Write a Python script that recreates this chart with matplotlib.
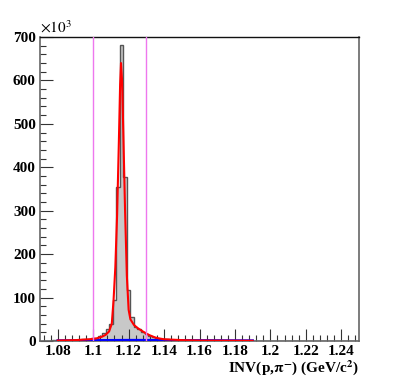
"""Lambda -> p pi- invariant mass peak with fit and mass window."""

import numpy as np
import matplotlib.pyplot as plt
from matplotlib.ticker import MultipleLocator

# histogram: bin edges (GeV/c^2) and counts (x10^3)
BIN_LO = 1.071
BIN_W = 0.002
COUNTS = [
    0.5, 0.8, 1.0, 1.2, 1.5, 1.8, 2.0, 2.3, 2.6, 3.0,      # 1.071 - 1.091
    3.4, 3.9, 4.5, 5.2, 6.5, 8.0, 11, 18, 27, 39,          # 1.091 - 1.111
    94, 355, 681, 378, 117, 55, 33, 27, 21, 16,            # 1.111 - 1.131
    12, 9, 7, 5, 4, 3.5, 3.0, 2.8, 2.5, 2.3,               # 1.131 - 1.151
    2.2, 2.1, 2.0, 1.9, 1.8, 1.7, 1.6, 1.5, 1.4, 1.3,      # 1.151 - 1.171
    1.2, 1.1, 1.0, 1.0, 0.9, 0.9, 0.8, 0.8, 0.7, 0.7,      # 1.171 - 1.191
    0.6, 0.6, 0.5, 0.5, 0.5, 0.4, 0.4, 0.4, 0.3, 0.3,      # 1.191 - 1.211
    0.3, 0.3, 0.2, 0.2, 0.2, 0.2, 0.2, 0.1, 0.1, 0.1,      # 1.211 - 1.231
    0.1, 0.1, 0.1, 0.1, 0.1, 0.1, 0.1, 0.1, 0.1,           # 1.231 - 1.249
]

FIT_X = [1.080, 1.090, 1.098, 1.102, 1.105, 1.107, 1.109, 1.1105, 1.1115,
         1.1125, 1.1135, 1.1145, 1.1152, 1.1157, 1.1163, 1.117, 1.118,
         1.119, 1.120, 1.121, 1.123, 1.125, 1.128, 1.130, 1.132, 1.135,
         1.137, 1.140, 1.150, 1.160, 1.190]
FIT_Y = [1, 2, 4, 6, 10, 14, 22, 40, 94,
         170, 290, 460, 590, 640, 600, 480, 300,
         150, 72, 50, 37, 30, 22, 17, 13, 8,
         6, 4, 2, 1, 0.5]

# background fit (blue)
BKG_X = [1.08, 1.10, 1.12, 1.14, 1.16, 1.19]
BKG_Y = [1.0, 1.5, 2.0, 1.8, 1.4, 1.0]

# mass window
WINDOW = [1.10, 1.13]

plt.rcParams["font.family"] = ["Liberation Serif", "DejaVu Serif"]
plt.rcParams["mathtext.fontset"] = "stix"

fig = plt.figure(figsize=(3.99, 3.79), dpi=100)
ax = fig.add_axes([0.1003, 0.1003, 0.7994, 0.8021])

edges = BIN_LO + BIN_W * np.arange(len(COUNTS) + 1)
ax.stairs(COUNTS, edges, fill=True, color="#c8c8c8", zorder=1)
ax.stairs(COUNTS, edges, color="#555555", linewidth=1.0, zorder=2)

ax.plot(BKG_X, BKG_Y, color="#0000ff", linewidth=1.8, zorder=3.5)
ax.plot(FIT_X, FIT_Y, color="#ff0000", linewidth=1.5, zorder=4)

for xw in WINDOW:
    ax.axvline(xw, color="#ee77ee", linewidth=1.0, zorder=5)

ax.set_xlim(1.07, 1.25)
ax.set_ylim(0, 700)

ax.xaxis.set_major_locator(MultipleLocator(0.02))
ax.xaxis.set_minor_locator(MultipleLocator(0.004))
ax.yaxis.set_major_locator(MultipleLocator(100))
ax.yaxis.set_minor_locator(MultipleLocator(20))
ax.xaxis.set_major_formatter(lambda v, p: f"{v:.2f}".rstrip("0").rstrip("."))

ax.tick_params(which="both", direction="in", top=False, right=False,
               color="#333333")
ax.tick_params(which="major", length=9, width=0.8, labelsize=11, pad=3)
ax.tick_params(which="minor", length=4.5, width=0.8)
for lab in ax.get_xticklabels() + ax.get_yticklabels():
    lab.set_fontweight("bold")

for side in ["left", "right", "bottom"]:
    ax.spines[side].set_color("#666666")
    ax.spines[side].set_linewidth(1.2)
ax.spines["top"].set_color("#111111")
ax.spines["top"].set_linewidth(1.0)

fig.text(0.1003, 0.905, r"$\times10^{3}$", fontsize=11, ha="left", va="bottom")
fig.text(0.8997, 0.004, r"INV(p,$\mathbf{\pi^{-}}$) (GeV/c$^{\mathbf{2}}$)",
         fontsize=11, fontweight="bold", ha="right", va="bottom")

fig.savefig("out.png", dpi=100)
